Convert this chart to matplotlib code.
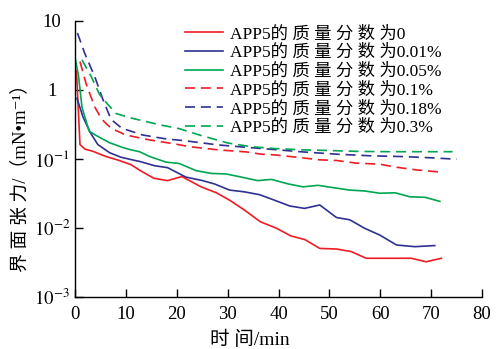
import matplotlib
matplotlib.use("Agg")
import matplotlib.pyplot as plt
from matplotlib.ticker import FixedLocator, FixedFormatter

plt.rcParams['font.family'] = ['Liberation Serif', 'Noto Sans CJK SC', 'DejaVu Sans']
plt.rcParams['mathtext.fontset'] = 'stix'
plt.rcParams['axes.unicode_minus'] = False

# APP5 质量分数为 0
t_0 = [0.3, 1.0, 2.0, 3.5, 6, 8.5, 11, 13, 15.5, 18.2, 21, 24.8, 27.8, 30.4,
       33.3, 36.4, 39.6, 42.4, 45.2, 48.1, 51.4, 54.3, 57.2, 63.2, 66.1, 69, 72]
v_0 = [1.9, 0.16, 0.137, 0.128, 0.108, 0.095, 0.082, 0.066, 0.052, 0.048,
       0.055, 0.039, 0.032, 0.025, 0.018, 0.0122, 0.0098, 0.0076, 0.0067,
       0.0050, 0.0049, 0.0045, 0.0036, 0.0036, 0.0036, 0.0032, 0.0036]

# 0.01%
t_001 = [0.4, 1.6, 3.0, 4.5, 6.8, 9, 11, 13, 15.6, 18.2, 21.8, 25.1, 27.4,
         30.4, 33.3, 36.3, 39.2, 42.2, 45.1, 48.1, 51.4, 54, 56.9, 59.9,
         63.2, 66.8, 70.7]
v_001 = [0.75, 0.4, 0.24, 0.16, 0.122, 0.105, 0.097, 0.09, 0.079, 0.074,
         0.054, 0.048, 0.043, 0.035, 0.033, 0.030, 0.025, 0.0206, 0.019,
         0.0213, 0.014, 0.013, 0.0098, 0.0078, 0.0056, 0.0053, 0.0055]

# 0.05%
t_005 = [0, 0.7, 1.4, 2.8, 4, 6.8, 9.4, 11, 12.7, 14.6, 17.9, 20.5, 23.8,
         26.8, 29.7, 32.7, 35.9, 38.6, 41.9, 44.8, 47.8, 50.7, 54, 56.9,
         59.9, 62.9, 65.8, 68.8, 71.7]
v_005 = [3.0, 1.6, 0.55, 0.25, 0.22, 0.17, 0.145, 0.134, 0.126, 0.108,
         0.089, 0.085, 0.067, 0.061, 0.06, 0.054, 0.048, 0.05, 0.043, 0.039,
         0.041, 0.038, 0.035, 0.034, 0.0315, 0.032, 0.028, 0.0275, 0.024]

# 0.1%
t_01 = [1.0, 2.2, 3.9, 5.3, 7.1, 10, 14.6, 19.9, 22.5, 28.1, 33.7, 36.6,
        39.4, 44, 48.1, 51.4, 55.3, 59.9, 63.2, 67.1, 72]
v_01 = [2.55, 1.22, 0.56, 0.37, 0.276, 0.22, 0.187, 0.162, 0.149, 0.134,
        0.125, 0.116, 0.113, 0.104, 0.096, 0.094, 0.086, 0.083, 0.075,
        0.0686, 0.0636]

# 0.18%
t_018 = [0.5, 1.9, 3.9, 5.5, 7.1, 9.2, 13.3, 17.9, 21.5, 28.1, 34.6, 38.3,
         44.8, 51.4, 57.9, 64.5, 69.7, 75]
v_018 = [6.6, 3.4, 1.54, 0.72, 0.37, 0.276, 0.22, 0.193, 0.182, 0.158,
         0.144, 0.137, 0.125, 0.116, 0.11, 0.107, 0.103, 0.098]

# 0.3%
t_03 = [1.4, 3.2, 4.8, 6.3, 8.1, 11.2, 16.6, 20.5, 24.9, 30.1, 34.6, 39.2,
        44.8, 50, 56, 62, 68, 74.2]
v_03 = [2.69, 1.55, 0.86, 0.63, 0.45, 0.385, 0.31, 0.272, 0.215, 0.168,
        0.149, 0.14, 0.134, 0.131, 0.127, 0.126, 0.126, 0.126]

labels = ["APP5的 质 量 分 数 为0", "APP5的 质 量 分 数 为0.01%",
          "APP5的 质 量 分 数 为0.05%", "APP5的 质 量 分 数 为0.1%",
          "APP5的 质 量 分 数 为0.18%", "APP5的 质 量 分 数 为0.3%"]

yticks = [1e-3, 1e-2, 1e-1, 1, 10]
ytick_labels = ["$10^{-3}$", "$10^{-2}$", "$10^{-1}$", "1", "10"]
xticks = [0, 10, 20, 30, 40, 50, 60, 70, 80]

red = '#ee1c25'
blue = '#2e3192'
green = '#00a651'

fig = plt.figure(figsize=(4.96, 3.49), dpi=100)
ax = fig.add_axes([0.151, 0.150, 0.821, 0.791])

lw = 1.2
dash = (6, 3.5)
ax.plot(t_0, v_0, color=red, lw=lw, label=labels[0])
ax.plot(t_001, v_001, color=blue, lw=lw, label=labels[1])
ax.plot(t_005, v_005, color=green, lw=lw, label=labels[2])
ax.plot(t_01, v_01, color=red, lw=lw, dashes=dash, label=labels[3])
ax.plot(t_018, v_018, color=blue, lw=lw, dashes=dash, label=labels[4])
ax.plot(t_03, v_03, color=green, lw=lw, dashes=dash, label=labels[5])

ax.set_yscale('log')
ax.set_xlim(0, 80)
ax.set_ylim(1e-3, 10)
ax.yaxis.set_major_locator(FixedLocator(yticks))
ax.yaxis.set_major_formatter(FixedFormatter(ytick_labels))
ax.yaxis.set_minor_locator(FixedLocator([]))
ax.set_xticks(xticks)

for s in ['top', 'right']:
    ax.spines[s].set_visible(False)
for s in ['left', 'bottom']:
    ax.spines[s].set_linewidth(1.0)
ax.tick_params(direction='in', length=6, width=1.0, labelsize=13.5)
ax.tick_params(axis='y', pad=16.5)
ax.tick_params(axis='x', pad=7)
for lab in ax.get_yticklabels():
    lab.set_horizontalalignment('center')

ax.set_xlabel("时 间/min", fontsize=14)
ax.xaxis.set_label_coords(0.43, -0.125)
ax.set_ylabel("界 面 张 力/（mN•m⁻¹）", fontsize=13.5)
ax.yaxis.set_label_coords(-0.113, 0.445)

ax.legend(loc='upper left', bbox_to_anchor=(0.254, 1.005), frameon=False,
          fontsize=12.5, handlelength=2.2, handletextpad=0.4,
          labelspacing=0.14, borderaxespad=0)

fig.savefig("out.png", dpi=100)
